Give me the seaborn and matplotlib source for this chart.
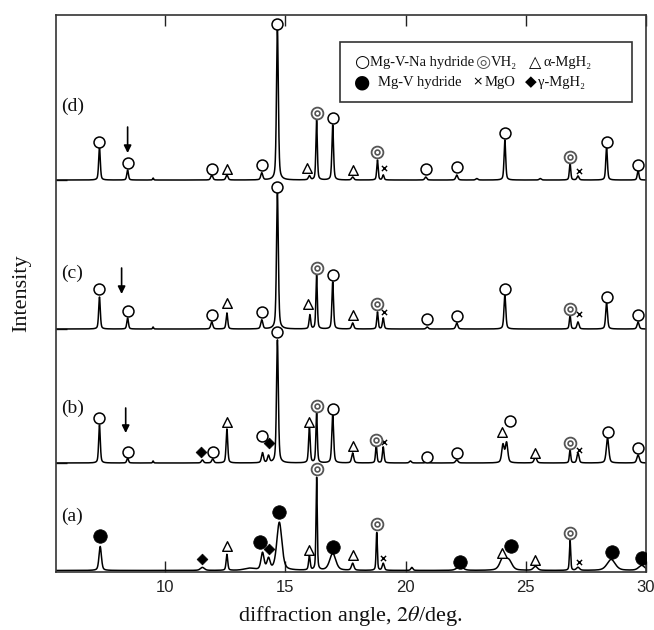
import numpy as np
import pandas as pd
import matplotlib
matplotlib.use("Agg")
import matplotlib.pyplot as plt
import seaborn as sns
from matplotlib.patches import Rectangle

# ---------------- data ----------------
x_min, x_max = 5.45, 30.0
y_max = 557.0
x_ticks = [10, 15, 20, 25, 30]

pattern_names = ["(a)", "(b)", "(c)", "(d)"]
pattern_offsets = [1.5, 109, 243, 392]
label_heights = [56, 164, 299, 466]

# peaks: position (deg), height (above baseline), FWHM (deg)
a_pos = [7.30, 11.55, 12.57, 13.50, 14.05, 14.30, 14.75, 16.00, 16.30, 16.97, 17.80, 18.80,
         19.07, 20.26, 22.26, 24.05, 24.30, 25.40, 26.84, 27.17, 28.55, 29.82]
a_hgt = [24, 3, 16, 2, 17, 11, 48, 14, 93, 17, 7, 38, 7, 3, 4, 12, 9, 4, 31, 3, 11, 5]
a_fwhm = [0.12, 0.2, 0.08, 0.5, 0.15, 0.15, 0.25, 0.08, 0.06, 0.3, 0.12, 0.06,
          0.1, 0.1, 0.3, 0.3, 0.3, 0.2, 0.06, 0.15, 0.4, 0.3]

b_pos = [7.27, 8.44, 9.50, 11.55, 11.98, 12.57, 14.05, 14.30, 14.67, 16.00, 16.30, 16.97,
         17.80, 18.78, 19.07, 20.20, 20.90, 22.13, 24.05, 24.20, 25.40, 26.84, 27.17, 28.40, 29.67]
b_hgt = [38, 5, 2, 3, 4, 34, 10, 7, 123, 36, 51, 48, 10, 18, 16, 2, 2, 3, 18, 20, 6, 13, 10, 25, 8]
b_fwhm = [0.08, 0.08, 0.05, 0.1, 0.1, 0.08, 0.1, 0.1, 0.09, 0.08, 0.07, 0.09,
          0.1, 0.07, 0.08, 0.1, 0.1, 0.12, 0.12, 0.12, 0.12, 0.07, 0.1, 0.12, 0.12]

c_pos = [7.27, 8.44, 9.50, 11.94, 12.57, 14.02, 14.67, 16.02, 16.30, 16.97, 17.80, 18.83,
         19.07, 20.90, 22.13, 24.13, 26.84, 27.17, 28.36, 29.67]
c_hgt = [32, 11, 2, 7, 16, 9, 136, 14, 54, 47, 6, 17, 11, 2, 6, 34, 14, 7, 26, 7]
c_fwhm = [0.08, 0.08, 0.05, 0.1, 0.08, 0.1, 0.09, 0.08, 0.07, 0.08, 0.1, 0.07,
          0.08, 0.1, 0.1, 0.09, 0.07, 0.1, 0.09, 0.1]

d_pos = [7.27, 8.44, 9.50, 11.94, 12.57, 14.02, 14.67, 16.00, 16.30, 16.97, 17.80, 18.83,
         19.07, 20.84, 22.13, 22.96, 24.13, 25.60, 26.84, 27.17, 28.36, 29.67]
d_hgt = [33, 10, 2, 5, 5, 7, 152, 4, 60, 55, 3, 20, 5, 3, 5, 1.5, 40, 1.5, 17, 4, 33, 10]
d_fwhm = [0.08, 0.08, 0.05, 0.1, 0.1, 0.1, 0.09, 0.1, 0.07, 0.08, 0.1, 0.07,
          0.08, 0.1, 0.1, 0.1, 0.08, 0.1, 0.07, 0.1, 0.08, 0.08]

# phase markers: position, height above baseline, phase
a_mk_pos = [7.30, 11.55, 12.57, 13.95, 14.31, 14.75, 16.00, 16.30, 16.97, 17.80, 18.80, 19.07,
            22.26, 24.02, 24.37, 25.40, 26.84, 27.20, 28.57, 29.82]
a_mk_hgt = [34, 11, 24, 28, 21, 58, 20, 101, 23, 15, 46, 12, 8, 17, 24, 10, 37, 8, 18, 12]
a_mk_ph = ["MgV", "gMgH2", "aMgH2", "MgV", "gMgH2", "MgV", "aMgH2", "VH2", "MgV", "aMgH2",
           "VH2", "MgO", "MgV", "aMgH2", "MgV", "aMgH2", "VH2", "MgO", "MgV", "MgV"]

b_mk_pos = [7.27, 8.44, 11.48, 11.98, 12.57, 14.02, 14.31, 14.67, 16.00, 16.30, 16.97, 17.80,
            18.78, 19.10, 20.90, 22.13, 24.00, 24.34, 25.40, 26.84, 27.20, 28.40, 29.67]
b_mk_hgt = [45, 11, 11, 11, 41, 27, 20, 131, 41, 57, 54, 17, 23, 21, 6, 10, 31, 42, 10, 20, 13, 31, 15]
b_mk_ph = ["NaH", "NaH", "gMgH2", "NaH", "aMgH2", "NaH", "gMgH2", "NaH", "aMgH2", "VH2", "NaH",
           "aMgH2", "VH2", "MgO", "NaH", "NaH", "aMgH2", "NaH", "aMgH2", "VH2", "MgO", "NaH", "NaH"]

c_mk_pos = [7.27, 8.44, 11.94, 12.57, 14.02, 14.67, 15.95, 16.30, 16.97, 17.80, 18.83, 19.10,
            20.90, 22.13, 24.13, 26.84, 27.20, 28.36, 29.67]
c_mk_hgt = [40, 18, 14, 26, 17, 142, 25, 61, 54, 14, 25, 17, 10, 13, 40, 20, 15, 32, 14]
c_mk_ph = ["NaH", "NaH", "NaH", "aMgH2", "NaH", "NaH", "aMgH2", "VH2", "NaH", "aMgH2", "VH2",
           "MgO", "NaH", "NaH", "NaH", "VH2", "MgO", "NaH", "NaH"]

d_mk_pos = [7.27, 8.44, 11.94, 12.57, 14.02, 14.67, 15.90, 16.30, 16.97, 17.80, 18.83, 19.10,
            20.84, 22.13, 24.13, 26.84, 27.20, 28.36, 29.67]
d_mk_hgt = [38, 17, 11, 11, 15, 156, 12, 67, 62, 10, 28, 12, 11, 13, 47, 23, 9, 38, 15]
d_mk_ph = ["NaH", "NaH", "NaH", "aMgH2", "NaH", "NaH", "aMgH2", "VH2", "NaH", "aMgH2", "VH2",
           "MgO", "NaH", "NaH", "NaH", "VH2", "MgO", "NaH", "NaH"]

# arrows (patterns b, c, d): position, top and tip heights above baseline
arrow_pattern = [1, 2, 3]
arrow_pos = [8.36, 8.19, 8.44]
arrow_top = [55, 61, 53]
arrow_tip = [30, 35, 27]

# ---------------- build the profiles ----------------
peaks = [(a_pos, a_hgt, a_fwhm), (b_pos, b_hgt, b_fwhm), (c_pos, c_hgt, c_fwhm), (d_pos, d_hgt, d_fwhm)]
marks = [(a_mk_pos, a_mk_hgt, a_mk_ph), (b_mk_pos, b_mk_hgt, b_mk_ph),
         (c_mk_pos, c_mk_hgt, c_mk_ph), (d_mk_pos, d_mk_hgt, d_mk_ph)]

grid = np.arange(x_min, x_max + 0.001, 0.004)
frames = []
for name, off, (pp, hh, ww) in zip(pattern_names, pattern_offsets, peaks):
    prof = np.zeros_like(grid)
    for p, h, w in zip(pp, hh, ww):
        u = (grid - p) / w
        prof += h * (0.55 * np.exp(-4 * np.log(2) * u ** 2) + 0.45 / (1 + 4 * u ** 2))
    frames.append(pd.DataFrame({"two_theta": grid, "intensity": prof + off, "pattern": name}))
df = pd.concat(frames, ignore_index=True)

mk_frames = []
for name, off, (mp, mh, mph) in zip(pattern_names, pattern_offsets, marks):
    mk_frames.append(pd.DataFrame({"two_theta": mp, "y": np.array(mh) + off, "phase": mph, "pattern": name}))
mk = pd.concat(mk_frames, ignore_index=True)

# ---------------- plot ----------------
sns.set_theme(style="white")
plt.rcParams["font.family"] = ["Liberation Serif", "DejaVu Serif"]
plt.rcParams["mathtext.fontset"] = "stix"

fig = plt.figure(figsize=(6.54, 6.30), dpi=100)
ax = fig.add_axes([0.0852, 0.0921, 0.9026, 0.884])

sns.lineplot(data=df, x="two_theta", y="intensity", units="pattern", estimator=None,
             sort=False, color="black", linewidth=1.1, ax=ax, zorder=2)

def sc(sub, **kw):
    if len(sub):
        sns.scatterplot(data=sub, x="two_theta", y="y", ax=ax, legend=False, zorder=4, **kw)

sc(mk[mk.phase == "NaH"], marker="o", s=62, color="white", edgecolor="black", linewidth=1.1)
sc(mk[mk.phase == "MgV"], marker="o", s=95, color="black", edgecolor="black", linewidth=0.5)
sc(mk[mk.phase == "aMgH2"], marker="^", s=48, color="white", edgecolor="black", linewidth=1.0)
sc(mk[mk.phase == "gMgH2"], marker="D", s=30, color="black", edgecolor="black", linewidth=0.5)
sc(mk[mk.phase == "MgO"], marker="x", s=14, color="black", linewidth=1.0)
sc(mk[mk.phase == "VH2"], marker="o", s=72, color="white", edgecolor="#555555", linewidth=1.3)
sc(mk[mk.phase == "VH2"], marker="o", s=12, color="white", edgecolor="#555555", linewidth=1.2)

for pi, xp, yt, yb in zip(arrow_pattern, arrow_pos, arrow_top, arrow_tip):
    off = pattern_offsets[pi]
    ax.annotate("", xy=(xp, off + yb), xytext=(xp, off + yt),
                arrowprops=dict(arrowstyle="-|>", color="black", lw=1.2, mutation_scale=11,
                                shrinkA=0, shrinkB=0))

for name, yl in zip(pattern_names, label_heights):
    ax.text(5.68, yl, name, ha="left", va="center", fontsize=14, color="#111111")

ax.set_xlim(x_min, x_max)
ax.set_ylim(0, y_max)
ax.set_xticks(x_ticks)
ax.set_xticklabels([str(t) for t in x_ticks])
ax.set_yticks(pattern_offsets[1:])
ax.set_yticklabels([])
ax.tick_params(axis="x", direction="in", length=8, width=1.0, top=True, bottom=True,
               labeltop=False, labelsize=12, pad=6, colors="#222222")
ax.tick_params(axis="y", direction="in", length=8, width=1.0, left=True, right=False)
for lab in ax.get_xticklabels():
    lab.set_fontfamily(["Liberation Sans", "DejaVu Sans"])
for sp in ax.spines.values():
    sp.set_linewidth(1.2)
    sp.set_color("#333333")

ax.set_xlabel(r"diffraction angle, $\mathit{2\theta}$/deg.", fontsize=16, labelpad=6, color="#111111")
ax.set_ylabel("Intensity", fontsize=16, labelpad=14, color="#111111")

# legend box (text)
ax.add_patch(Rectangle((0.4816, 0.8438), 0.4947, 0.1077, transform=ax.transAxes,
                       facecolor="white", edgecolor="#333333", lw=1.2, zorder=5))
sym = ["DejaVu Sans"]
txt = ["Liberation Serif", "DejaVu Serif"]
r1, r2 = 0.9156, 0.8797
items = [
    (0.519, r1, "○", "center", "black", 12.5, sym),
    (0.533, r1, "Mg-V-Na hydride", "left", "#111111", 10.5, txt),
    (0.724, r1, "◎", "center", "#555555", 12.5, sym),
    (0.7365, r1, "VH₂", "left", "#111111", 10.5, txt),
    (0.812, r1, "△", "center", "black", 11.5, sym),
    (0.8255, r1, "α-MgH₂", "left", "#111111", 10.5, txt),
    (0.519, r2, "●", "center", "black", 13.5, sym),
    (0.546, r2, "Mg-V hydride", "left", "#111111", 10.5, txt),
    (0.7154, r2, "×", "center", "black", 9, sym),
    (0.7273, r2, "MgO", "left", "#111111", 10.5, txt),
    (0.805, r2, "◆", "center", "black", 11, sym),
    (0.817, r2, "γ-MgH₂", "left", "#111111", 10.5, txt),
]
for xx, yy, s, ha, col, fs, fam in items:
    ax.text(xx, yy, s, transform=ax.transAxes, ha=ha, va="center", fontsize=fs,
            color=col, family=fam, zorder=6)

fig.savefig("out.png", dpi=100)
